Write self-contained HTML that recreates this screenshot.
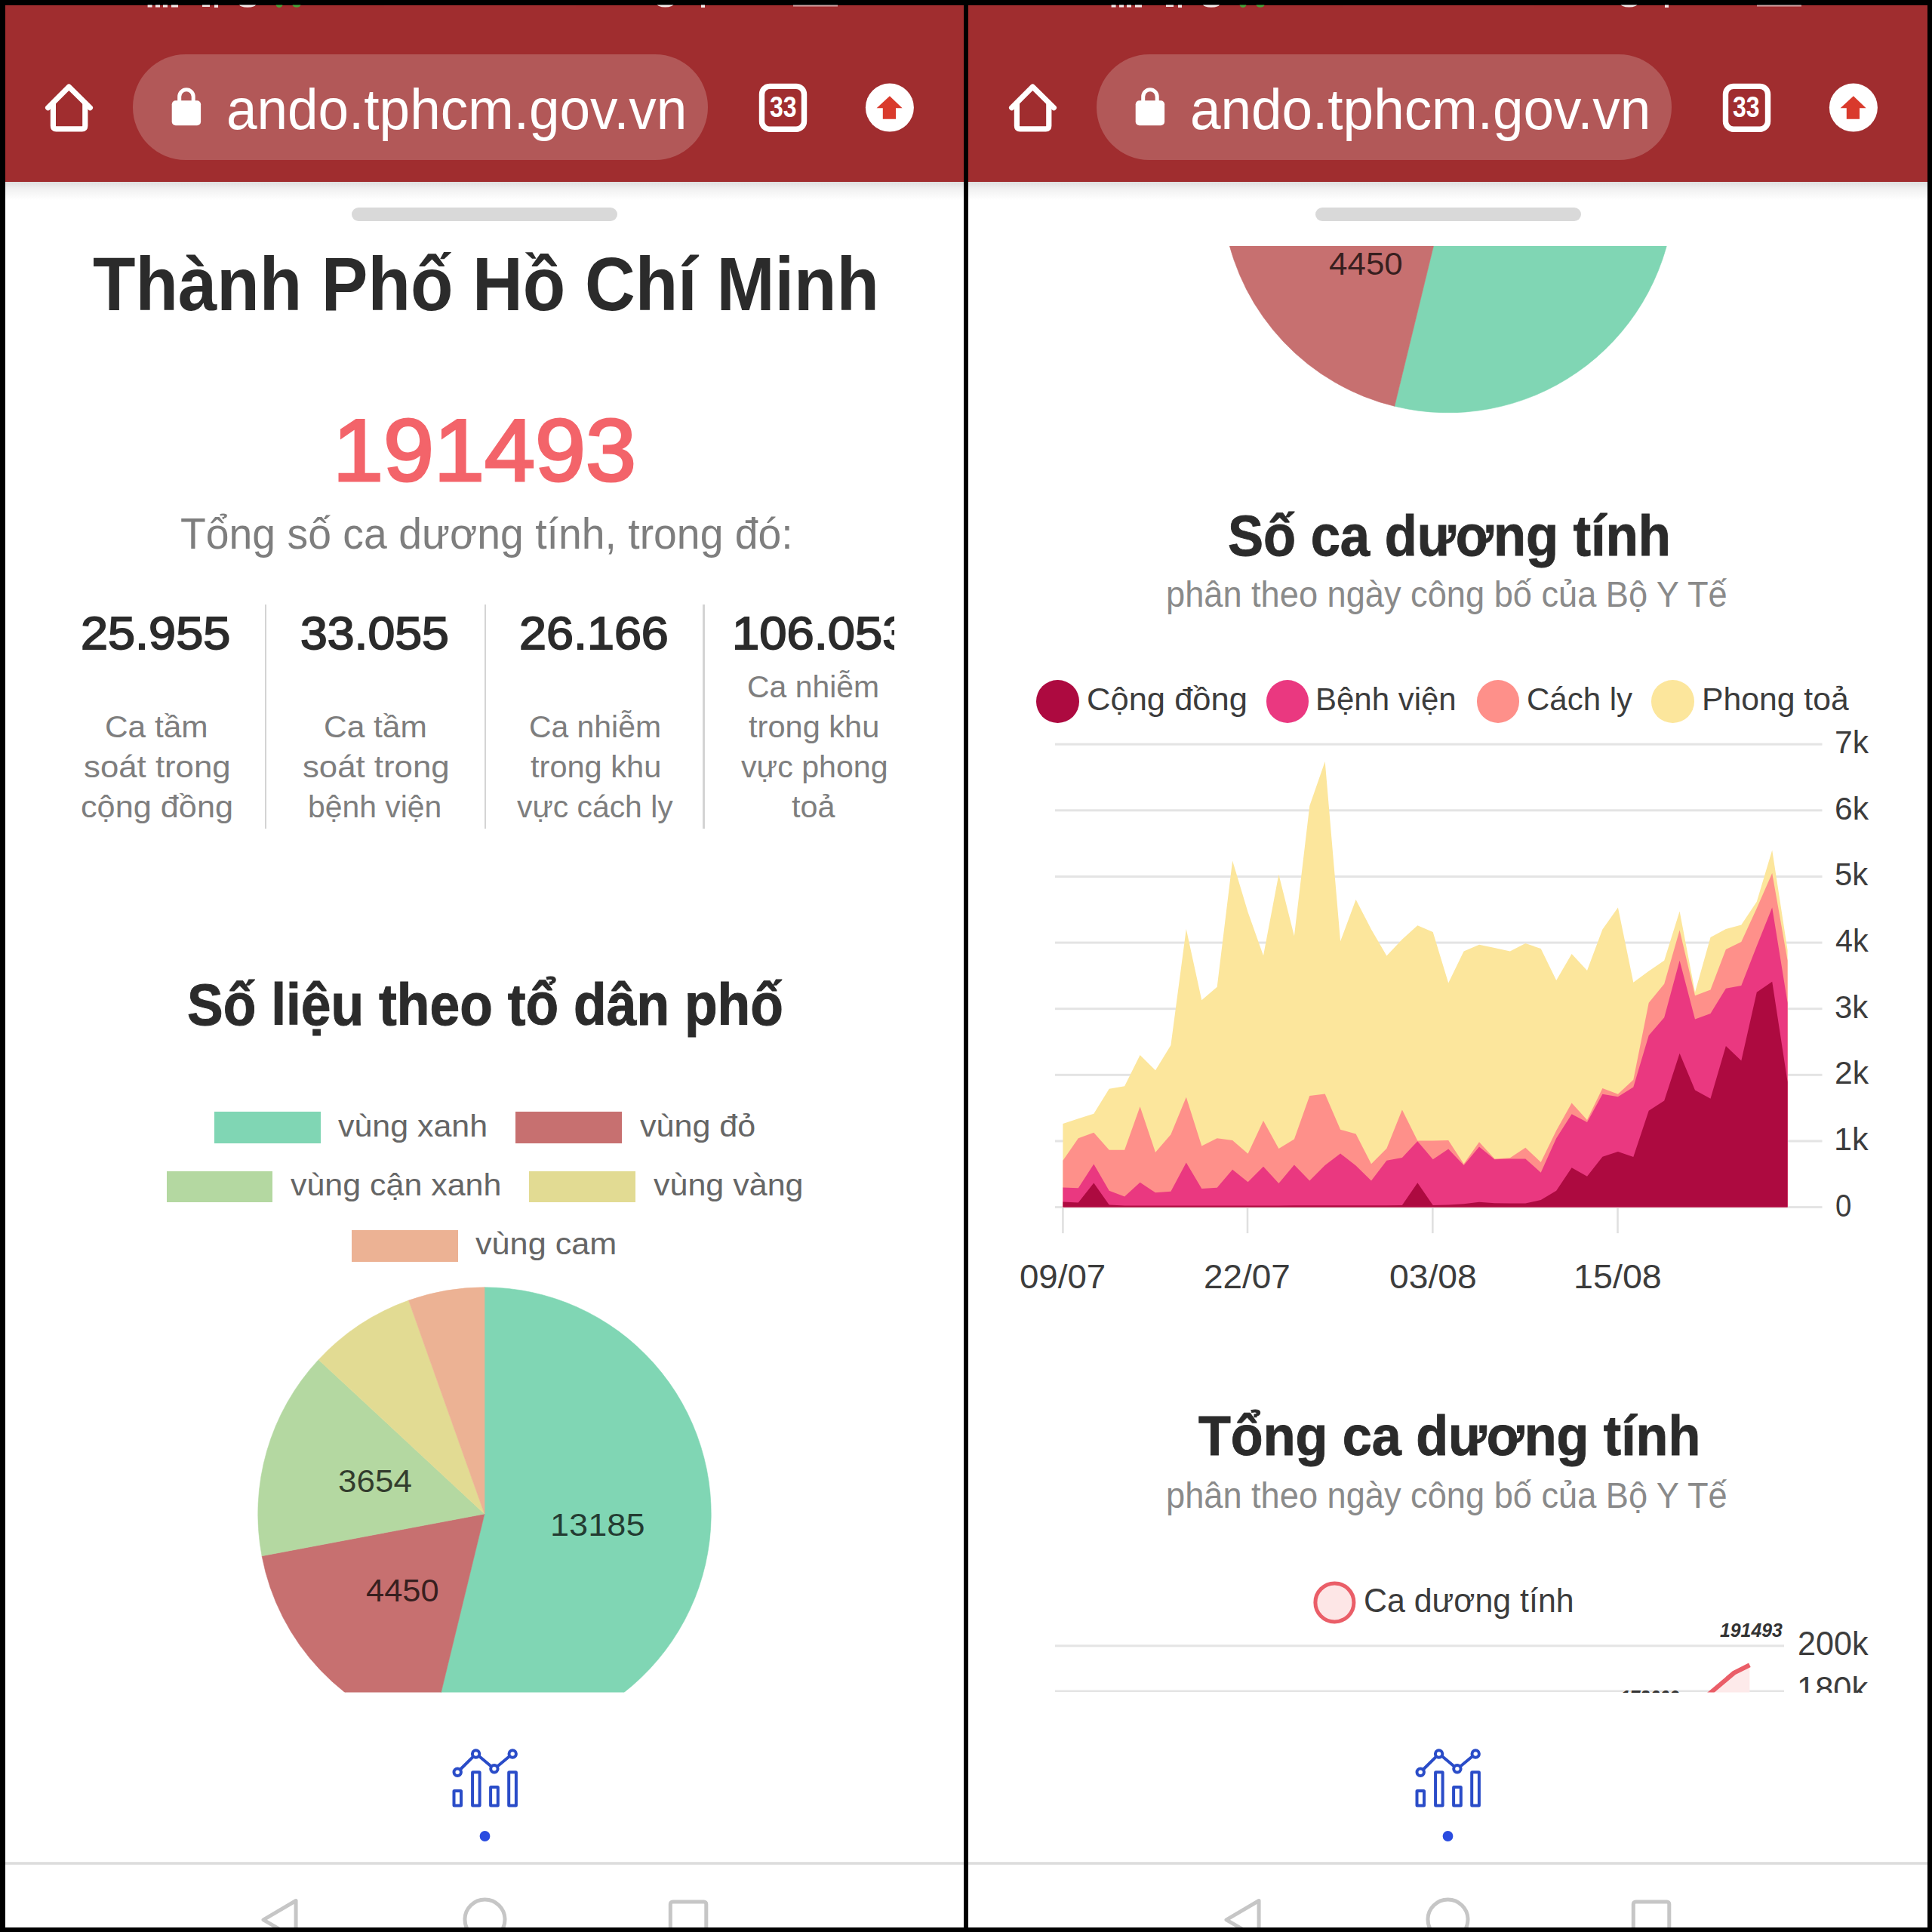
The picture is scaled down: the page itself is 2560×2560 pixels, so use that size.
<!DOCTYPE html><html><head><meta charset="utf-8"><title>Thành Phố Hồ Chí Minh</title><style>
html,body{margin:0;padding:0;background:#000;}
body{width:2560px;height:2560px;position:relative;overflow:hidden;font-family:"Liberation Sans",sans-serif;}
.abs{position:absolute;}
.panel{position:absolute;top:6.5px;height:2547px;background:#fff;}
.bar{position:absolute;top:6.5px;width:1270.500px;height:234.200px;background:#a02d2f;}
.shadow{position:absolute;top:240.700px;width:1270.500px;height:24px;background:linear-gradient(#dedede,#f0f0f0 35%,#fff);}
.pill{position:absolute;top:72px;width:762px;height:140px;border-radius:70px;background:#b25858;}
.handle{position:absolute;top:275px;width:352.400px;height:18px;border-radius:9px;background:#d9d9d9;}
.t{position:absolute;white-space:nowrap;line-height:1;transform-origin:0 0;}
.cl{position:absolute;overflow:hidden;}
.div{position:absolute;top:800.500px;height:297px;width:2.600px;background:#d4d4d4;}
.lg{position:absolute;width:140.800px;height:41.800px;}
.dot{position:absolute;width:56.600px;height:56.600px;border-radius:50%;}
</style></head><body>
<div class="panel" style="left:6.5px;width:1270.500px"></div>
<div class="panel" style="left:1283px;width:1270.500px"></div>
<svg class="abs" style="left:0;top:0" width="2560" height="2560" viewBox="0 0 2560 2560">
<defs><clipPath id="cv"><rect x="0" y="326" width="2560" height="1916.500"/></clipPath></defs>
<g clip-path="url(#cv)">
<path d="M642.00,2006.00 L642.00,1705.80 A300.20,300.20 0 1 1 571.00,2297.68 Z" fill="#80d6b4" stroke="#80d6b4" stroke-width="0.6"/>
<path d="M642.00,2006.00 L571.00,2297.68 A300.20,300.20 0 0 1 347.02,2061.74 Z" fill="#c77070" stroke="#c77070" stroke-width="0.6"/>
<path d="M642.00,2006.00 L347.02,2061.74 A300.20,300.20 0 0 1 422.09,1801.65 Z" fill="#b4d8a1" stroke="#b4d8a1" stroke-width="0.6"/>
<path d="M642.00,2006.00 L422.09,1801.65 A300.20,300.20 0 0 1 541.49,1723.12 Z" fill="#e2db93" stroke="#e2db93" stroke-width="0.6"/>
<path d="M642.00,2006.00 L541.49,1723.12 A300.20,300.20 0 0 1 642.00,1705.80 Z" fill="#ecb294" stroke="#ecb294" stroke-width="0.6"/>
<path d="M1918.80,246.60 L1918.80,-53.60 A300.20,300.20 0 1 1 1847.80,538.28 Z" fill="#80d6b4" stroke="#80d6b4" stroke-width="0.6"/>
<path d="M1918.80,246.60 L1847.80,538.28 A300.20,300.20 0 0 1 1623.82,302.34 Z" fill="#c77070" stroke="#c77070" stroke-width="0.6"/>
<path d="M1918.80,246.60 L1623.82,302.34 A300.20,300.20 0 0 1 1698.89,42.25 Z" fill="#b4d8a1" stroke="#b4d8a1" stroke-width="0.6"/>
<path d="M1918.80,246.60 L1698.89,42.25 A300.20,300.20 0 0 1 1818.29,-36.28 Z" fill="#e2db93" stroke="#e2db93" stroke-width="0.6"/>
<path d="M1918.80,246.60 L1818.29,-36.28 A300.20,300.20 0 0 1 1918.80,-53.60 Z" fill="#ecb294" stroke="#ecb294" stroke-width="0.6"/>
<rect x="1398" y="984.7" width="1016.5" height="3" fill="#e4e4e4"/>
<rect x="1398" y="1072.3" width="1016.5" height="3" fill="#e4e4e4"/>
<rect x="1398" y="1160.0" width="1016.5" height="3" fill="#e4e4e4"/>
<rect x="1398" y="1247.6" width="1016.5" height="3" fill="#e4e4e4"/>
<rect x="1398" y="1335.2" width="1016.5" height="3" fill="#e4e4e4"/>
<rect x="1398" y="1422.8" width="1016.5" height="3" fill="#e4e4e4"/>
<rect x="1398" y="1510.5" width="1016.5" height="3" fill="#e4e4e4"/>
<rect x="1398" y="1598.1" width="1016.5" height="3" fill="#e4e4e4"/>
<rect x="1407.1" y="1599.6" width="2.6" height="34.5" fill="#e0e0e0"/>
<rect x="1651.7" y="1599.6" width="2.6" height="34.5" fill="#e0e0e0"/>
<rect x="1897.0" y="1599.6" width="2.6" height="34.5" fill="#e0e0e0"/>
<rect x="2142.2" y="1599.6" width="2.6" height="34.5" fill="#e0e0e0"/>
<path d="M1408.4,1599.6 L1408.4,1488.9 L1428.8,1482.2 L1449.3,1475.8 L1469.7,1442.8 L1490.1,1439.2 L1510.6,1398.1 L1531.0,1418.2 L1551.4,1384.9 L1571.8,1231.1 L1592.3,1325.3 L1612.7,1307.8 L1633.1,1140.4 L1653.6,1208.8 L1674.0,1266.2 L1694.4,1158.8 L1714.9,1240.3 L1735.3,1067.7 L1755.7,1009.0 L1776.1,1247.3 L1796.6,1192.1 L1817.0,1231.6 L1837.4,1266.6 L1857.9,1244.7 L1878.3,1226.3 L1898.7,1235.1 L1919.2,1302.5 L1939.6,1260.5 L1960.0,1251.7 L1980.4,1256.1 L2000.9,1260.5 L2021.3,1250.0 L2041.7,1257.0 L2062.2,1299.0 L2082.6,1264.0 L2103.0,1285.9 L2123.4,1231.6 L2143.9,1202.6 L2164.3,1301.7 L2184.7,1286.8 L2205.2,1272.8 L2225.6,1207.4 L2246.0,1314.8 L2266.5,1242.1 L2286.9,1231.1 L2307.3,1225.4 L2327.8,1194.8 L2348.2,1126.4 L2368.6,1259.0 L2368.6,1599.6 Z" fill="#fce69c"/>
<path d="M1408.4,1599.6 L1408.4,1537.8 L1428.8,1508.3 L1449.3,1500.8 L1469.7,1523.7 L1490.1,1523.7 L1510.6,1466.2 L1531.0,1526.9 L1551.4,1503.2 L1571.8,1453.7 L1592.3,1518.6 L1612.7,1508.3 L1633.1,1511.0 L1653.6,1528.7 L1674.0,1485.1 L1694.4,1521.9 L1714.9,1509.4 L1735.3,1452.1 L1755.7,1449.6 L1776.1,1496.8 L1796.6,1502.5 L1817.0,1542.3 L1837.4,1521.8 L1857.9,1470.6 L1878.3,1511.6 L1898.7,1511.6 L1919.2,1511.1 L1939.6,1542.3 L1960.0,1513.2 L1980.4,1535.6 L2000.9,1534.3 L2021.3,1520.7 L2041.7,1540.0 L2062.2,1498.0 L2082.6,1461.6 L2103.0,1483.9 L2123.4,1441.9 L2143.9,1449.8 L2164.3,1430.7 L2184.7,1328.8 L2205.2,1303.7 L2225.6,1232.4 L2246.0,1319.2 L2266.5,1311.5 L2286.9,1257.9 L2307.3,1247.9 L2327.8,1203.5 L2348.2,1157.1 L2368.6,1272.8 L2368.6,1599.6 Z" fill="#fe908a"/>
<path d="M1408.4,1599.6 L1408.4,1573.6 L1428.8,1574.2 L1449.3,1542.4 L1469.7,1577.7 L1490.1,1585.6 L1510.6,1566.7 L1531.0,1580.3 L1551.4,1578.8 L1571.8,1540.5 L1592.3,1574.9 L1612.7,1573.8 L1633.1,1549.7 L1653.6,1566.3 L1674.0,1545.8 L1694.4,1567.9 L1714.9,1543.5 L1735.3,1564.6 L1755.7,1544.0 L1776.1,1528.6 L1796.6,1544.6 L1817.0,1564.6 L1837.4,1537.7 L1857.9,1533.9 L1878.3,1512.2 L1898.7,1536.2 L1919.2,1522.5 L1939.6,1543.9 L1960.0,1519.5 L1980.4,1536.2 L2000.9,1535.5 L2021.3,1535.5 L2041.7,1553.7 L2062.2,1508.2 L2082.6,1476.3 L2103.0,1487.0 L2123.4,1449.8 L2143.9,1453.3 L2164.3,1440.4 L2184.7,1372.0 L2205.2,1348.3 L2225.6,1272.8 L2246.0,1350.6 L2266.5,1342.9 L2286.9,1309.8 L2307.3,1305.9 L2327.8,1253.5 L2348.2,1202.6 L2368.6,1328.8 L2368.6,1599.6 Z" fill="#ea3880"/>
<path d="M1408.4,1599.6 L1408.4,1592.4 L1428.8,1593.5 L1449.3,1567.4 L1469.7,1596.5 L1490.1,1597.4 L1510.6,1597.4 L1531.0,1597.4 L1551.4,1597.4 L1571.8,1597.4 L1592.3,1597.4 L1612.7,1597.4 L1633.1,1597.4 L1653.6,1597.4 L1674.0,1597.4 L1694.4,1597.4 L1714.9,1597.3 L1735.3,1597.3 L1755.7,1597.3 L1776.1,1597.3 L1796.6,1597.3 L1817.0,1597.3 L1837.4,1597.3 L1857.9,1597.0 L1878.3,1567.3 L1898.7,1597.0 L1919.2,1596.5 L1939.6,1595.2 L1960.0,1592.8 L1980.4,1594.2 L2000.9,1594.6 L2021.3,1594.6 L2041.7,1590.0 L2062.2,1577.7 L2082.6,1547.3 L2103.0,1558.7 L2123.4,1532.7 L2143.9,1525.9 L2164.3,1533.0 L2184.7,1471.7 L2205.2,1458.5 L2225.6,1395.8 L2246.0,1444.6 L2266.5,1455.7 L2286.9,1386.0 L2307.3,1405.5 L2327.8,1314.8 L2348.2,1300.8 L2368.6,1433.5 L2368.6,1599.6 Z" fill="#ad0a40"/>
<rect x="1398" y="2179.300" width="966" height="3" fill="#e4e4e4"/>
<rect x="1398" y="2239.500" width="966" height="2.500" fill="#e4e4e4"/>
<path d="M2265.600,2244 L2297.700,2216.600 L2318.400,2206.300 L2318.400,2244 Z" fill="#fdeaea"/>
<path d="M2263,2246 L2297.700,2216.600 L2318.400,2206.300" fill="none" stroke="#ea5e68" stroke-width="6" stroke-linejoin="round"/>
</g>
<circle cx="1768.400" cy="2123.400" r="25.500" fill="#fde6e6" stroke="#ea5e68" stroke-width="5"/>
</svg>

<div class="bar" style="left:6.5px"></div>
<div class="shadow" style="left:6.5px"></div>
<div class="pill" style="left:176.0px"></div>
<div class="handle" style="left:466.0px"></div>
<svg class="abs" style="left:0.0px;top:0" width="1280" height="260" viewBox="0 0 1280 260">
 <g fill="none" stroke="#fff" stroke-width="7.2" stroke-linecap="round" stroke-linejoin="round">
  <path d="M63.6,142.8 L91.3,115 L119.4,142.8"/>
  <path d="M70.4,137 L70.4,166.8 Q70.4,170.8 74.4,170.8 L108.8,170.8 Q112.8,170.8 112.8,166.8 L112.8,137"/>
 </g>
 <rect x="227.7" y="133.2" width="38.4" height="33" rx="5" fill="#fff"/>
 <path d="M237.7,135 L237.7,128 A9.25,9.25 0 0 1 256.2,128 L256.2,135" fill="none" stroke="#fff" stroke-width="5"/>
 <rect x="1009.5" y="114.4" width="56" height="56.8" rx="10.5" fill="none" stroke="#fff" stroke-width="7.4"/>
 <circle cx="1178.9" cy="142.6" r="32" fill="#fff"/>
 <path d="M1178.9,127.2 L1195.6,143.2 L1187,143.2 L1187,157.8 L1169.8,157.8 L1169.8,143.2 L1161.6,143.2 Z" fill="#d93a2c"/>
 <clipPath id="sba"><rect x="0" y="6.5" width="1280" height="20"/></clipPath>
 <g clip-path="url(#sba)"><g fill="#fff" opacity="0.9">
  <rect x="195.600" y="6" width="6" height="3.6"/><rect x="206" y="6" width="6" height="3.6"/><rect x="216" y="6" width="6" height="3.6"/><rect x="227" y="6" width="9" height="3.6"/>
  <rect x="268" y="6" width="10" height="3"/><rect x="284" y="6" width="5" height="4"/>
  <ellipse cx="328" cy="5" rx="11.5" ry="4.8"/>
  <ellipse cx="881.5" cy="4" rx="12" ry="5.5"/>
  <rect x="929" y="6" width="5" height="4"/>
  <rect x="1051" y="6" width="59" height="2.6" opacity="0.6"/>
 </g>
 <g fill="#3fae3c" opacity="0.9"><ellipse cx="370" cy="6" rx="4.500" ry="4"/><ellipse cx="393" cy="6" rx="5.500" ry="3.800"/></g></g>
</svg>

<svg class="abs" style="left:6.5px;top:2300px" width="1270.5" height="253.5" viewBox="6.5 2300 1270.5 253.5">
 <rect x="0" y="2467.2" width="1280" height="3.600" fill="#dddddd"/>
 <g fill="none" stroke="#c6c6c6" stroke-width="5" stroke-linejoin="round">
  <path d="M391.600,2518.500 L391.600,2569 L348.500,2543.800 Z"/>
  <circle cx="642" cy="2543.500" r="26.500"/>
  <rect x="887.800" y="2520" width="47.500" height="48" rx="3"/>
 </g>
 <g fill="none" stroke="#2a4cc8" stroke-width="4">
  <rect x="601" y="2373.100" width="9.500" height="19.300" rx="0.500"/>
  <rect x="625.600" y="2348.300" width="9.500" height="44.100" rx="0.500"/>
  <rect x="649.600" y="2367.900" width="9.700" height="24.500" rx="0.500"/>
  <rect x="673.700" y="2348.300" width="9.700" height="44.100" rx="0.500"/>
  <path d="M609,2345 L626.800,2327.300 M634,2326.700 L650.600,2340.700 M658.300,2340.700 L674.800,2327"/>
  <circle cx="605.700" cy="2348.300" r="4.700"/><circle cx="630.100" cy="2324" r="4.700"/>
  <circle cx="654.400" cy="2343.700" r="4.700"/><circle cx="678.700" cy="2324" r="4.700"/>
 </g>
 <circle cx="642" cy="2433" r="6.900" fill="#2a4ce0"/>
</svg>

<div class="bar" style="left:1283.0px"></div>
<div class="shadow" style="left:1283.0px"></div>
<div class="pill" style="left:1452.5px"></div>
<div class="handle" style="left:1742.5px"></div>
<svg class="abs" style="left:1276.5px;top:0" width="1280" height="260" viewBox="0 0 1280 260">
 <g fill="none" stroke="#fff" stroke-width="7.2" stroke-linecap="round" stroke-linejoin="round">
  <path d="M63.6,142.8 L91.3,115 L119.4,142.8"/>
  <path d="M70.4,137 L70.4,166.8 Q70.4,170.8 74.4,170.8 L108.8,170.8 Q112.8,170.8 112.8,166.8 L112.8,137"/>
 </g>
 <rect x="227.7" y="133.2" width="38.4" height="33" rx="5" fill="#fff"/>
 <path d="M237.7,135 L237.7,128 A9.25,9.25 0 0 1 256.2,128 L256.2,135" fill="none" stroke="#fff" stroke-width="5"/>
 <rect x="1009.5" y="114.4" width="56" height="56.8" rx="10.5" fill="none" stroke="#fff" stroke-width="7.4"/>
 <circle cx="1178.9" cy="142.6" r="32" fill="#fff"/>
 <path d="M1178.9,127.2 L1195.6,143.2 L1187,143.2 L1187,157.8 L1169.8,157.8 L1169.8,143.2 L1161.6,143.2 Z" fill="#d93a2c"/>
 <clipPath id="sbb"><rect x="0" y="6.5" width="1280" height="20"/></clipPath>
 <g clip-path="url(#sbb)"><g fill="#fff" opacity="0.9">
  <rect x="195.600" y="6" width="6" height="3.6"/><rect x="206" y="6" width="6" height="3.6"/><rect x="216" y="6" width="6" height="3.6"/><rect x="227" y="6" width="9" height="3.6"/>
  <rect x="268" y="6" width="10" height="3"/><rect x="284" y="6" width="5" height="4"/>
  <ellipse cx="328" cy="5" rx="11.5" ry="4.8"/>
  <ellipse cx="881.5" cy="4" rx="12" ry="5.5"/>
  <rect x="929" y="6" width="5" height="4"/>
  <rect x="1051" y="6" width="59" height="2.6" opacity="0.6"/>
 </g>
 <g fill="#3fae3c" opacity="0.9"><ellipse cx="370" cy="6" rx="4.500" ry="4"/><ellipse cx="393" cy="6" rx="5.500" ry="3.800"/></g></g>
</svg>

<svg class="abs" style="left:1283.0px;top:2300px" width="1270.5" height="253.5" viewBox="6.5 2300 1270.5 253.5">
 <rect x="0" y="2467.2" width="1280" height="3.600" fill="#dddddd"/>
 <g fill="none" stroke="#c6c6c6" stroke-width="5" stroke-linejoin="round">
  <path d="M391.600,2518.500 L391.600,2569 L348.500,2543.800 Z"/>
  <circle cx="642" cy="2543.500" r="26.500"/>
  <rect x="887.800" y="2520" width="47.500" height="48" rx="3"/>
 </g>
 <g fill="none" stroke="#2a4cc8" stroke-width="4">
  <rect x="601" y="2373.100" width="9.500" height="19.300" rx="0.500"/>
  <rect x="625.600" y="2348.300" width="9.500" height="44.100" rx="0.500"/>
  <rect x="649.600" y="2367.900" width="9.700" height="24.500" rx="0.500"/>
  <rect x="673.700" y="2348.300" width="9.700" height="44.100" rx="0.500"/>
  <path d="M609,2345 L626.800,2327.300 M634,2326.700 L650.600,2340.700 M658.300,2340.700 L674.800,2327"/>
  <circle cx="605.700" cy="2348.300" r="4.700"/><circle cx="630.100" cy="2324" r="4.700"/>
  <circle cx="654.400" cy="2343.700" r="4.700"/><circle cx="678.700" cy="2324" r="4.700"/>
 </g>
 <circle cx="642" cy="2433" r="6.900" fill="#2a4ce0"/>
</svg>
<div class="div" style="left:350.7px"></div>
<div class="div" style="left:641.7px"></div>
<div class="div" style="left:931.1px"></div>
<div class="lg" style="left:284.0px;top:1473.3px;background:#80d6b4"></div>
<div class="lg" style="left:683.0px;top:1473.3px;background:#c77070"></div>
<div class="lg" style="left:220.5px;top:1551.5px;background:#b4d8a1"></div>
<div class="lg" style="left:701.0px;top:1551.5px;background:#e2db93"></div>
<div class="lg" style="left:466.0px;top:1629.8px;background:#ecb294"></div>
<div class="dot" style="left:1373.3px;top:901.2px;background:#ad0a40"></div>
<div class="dot" style="left:1677.5px;top:901.2px;background:#ea3880"></div>
<div class="dot" style="left:1956.5px;top:901.2px;background:#fe908a"></div>
<div class="dot" style="left:2188.4px;top:901.2px;background:#fce69c"></div>
<span class="t" style="left:300.12px;top:106.75px;font-size:76.26px;color:#ffffff;transform:scaleX(0.9557);">ando.tphcm.gov.vn</span>
<span class="t" style="left:1019.60px;top:123.01px;font-size:38.26px;color:#ffffff;transform:scaleX(0.8365);font-weight:700;">33</span>
<span class="t" style="left:1576.62px;top:106.75px;font-size:76.26px;color:#ffffff;transform:scaleX(0.9557);">ando.tphcm.gov.vn</span>
<span class="t" style="left:2296.10px;top:123.01px;font-size:38.26px;color:#ffffff;transform:scaleX(0.8365);font-weight:700;">33</span>
<span class="t" style="left:123.30px;top:326.37px;font-size:99.98px;color:#2b2b2b;transform:scaleX(0.9244);font-weight:700;">Thành Phố Hồ Chí Minh</span>
<span class="t" style="left:440.77px;top:537.82px;font-size:117.05px;color:#f3646a;transform:scaleX(1.0293);-webkit-text-stroke:3.20px #f3646a;">191493</span>
<span class="t" style="left:238.84px;top:679.88px;font-size:56.60px;color:#7e7e7e;transform:scaleX(0.9779);">Tổng số ca dương tính, trong đó:</span>
<span class="t" style="left:106.86px;top:808.17px;font-size:61.58px;color:#2b2b2b;transform:scaleX(1.0526);-webkit-text-stroke:1.80px #2b2b2b;">25.955</span>
<span class="t" style="left:398.39px;top:808.17px;font-size:61.58px;color:#2b2b2b;transform:scaleX(1.0455);-webkit-text-stroke:1.80px #2b2b2b;">33.055</span>
<span class="t" style="left:687.77px;top:808.17px;font-size:61.58px;color:#2b2b2b;transform:scaleX(1.0504);-webkit-text-stroke:1.80px #2b2b2b;">26.166</span>
<div class="cl" style="left:960.00px;top:790.00px;width:225.00px;height:90.00px"><span class="t" style="left:10.33px;top:18.17px;font-size:61.58px;color:#2b2b2b;transform:scaleX(1.0575);-webkit-text-stroke:1.80px #2b2b2b;">106.053</span></div>
<span class="t" style="left:138.51px;top:943.09px;font-size:41.00px;color:#7e7e7e;transform:scaleX(1.0343);">Ca tầm</span>
<span class="t" style="left:110.62px;top:996.19px;font-size:41.00px;color:#7e7e7e;transform:scaleX(1.0675);">soát trong</span>
<span class="t" style="left:106.65px;top:1049.29px;font-size:41.00px;color:#7e7e7e;transform:scaleX(1.0547);">cộng đồng</span>
<span class="t" style="left:428.71px;top:943.09px;font-size:41.00px;color:#7e7e7e;transform:scaleX(1.0351);">Ca tầm</span>
<span class="t" style="left:400.92px;top:996.19px;font-size:41.00px;color:#7e7e7e;transform:scaleX(1.0669);">soát trong</span>
<span class="t" style="left:408.35px;top:1049.29px;font-size:41.00px;color:#7e7e7e;transform:scaleX(0.9962);">bệnh viện</span>
<span class="t" style="left:700.58px;top:943.09px;font-size:41.00px;color:#7e7e7e;transform:scaleX(0.9969);">Ca nhiễm</span>
<span class="t" style="left:702.50px;top:996.19px;font-size:41.00px;color:#7e7e7e;transform:scaleX(1.0134);">trong khu</span>
<span class="t" style="left:684.60px;top:1049.29px;font-size:41.00px;color:#7e7e7e;transform:scaleX(0.9964);">vực cách ly</span>
<span class="t" style="left:990.08px;top:889.99px;font-size:41.00px;color:#7e7e7e;transform:scaleX(0.9975);">Ca nhiễm</span>
<span class="t" style="left:992.00px;top:943.09px;font-size:41.00px;color:#7e7e7e;transform:scaleX(1.0140);">trong khu</span>
<span class="t" style="left:982.00px;top:996.19px;font-size:41.00px;color:#7e7e7e;transform:scaleX(1.0039);">vực phong</span>
<span class="t" style="left:1049.00px;top:1049.29px;font-size:41.00px;color:#7e7e7e;transform:scaleX(1.0078);">toả</span>
<span class="t" style="left:247.88px;top:1292.28px;font-size:78.22px;color:#2b2b2b;transform:scaleX(0.9134);font-weight:700;-webkit-text-stroke:1.00px #2b2b2b;">Số liệu theo tổ dân phố</span>
<span class="t" style="left:448.00px;top:1471.88px;font-size:40.66px;color:#666666;transform:scaleX(1.0559);">vùng xanh</span>
<span class="t" style="left:847.50px;top:1471.88px;font-size:40.66px;color:#666666;transform:scaleX(1.0591);">vùng đỏ</span>
<span class="t" style="left:384.90px;top:1550.18px;font-size:40.66px;color:#666666;transform:scaleX(1.0561);">vùng cận xanh</span>
<span class="t" style="left:865.50px;top:1550.18px;font-size:40.66px;color:#666666;transform:scaleX(1.0580);">vùng vàng</span>
<span class="t" style="left:630.00px;top:1628.48px;font-size:40.66px;color:#666666;transform:scaleX(1.0622);">vùng cam</span>
<span class="t" style="left:729.18px;top:1999.90px;font-size:42.52px;color:rgba(0,0,0,0.72);transform:scaleX(1.0617);">13185</span>
<span class="t" style="left:447.63px;top:1941.84px;font-size:42.24px;color:rgba(0,0,0,0.72);transform:scaleX(1.0415);">3654</span>
<span class="t" style="left:484.72px;top:2086.72px;font-size:42.38px;color:rgba(0,0,0,0.72);transform:scaleX(1.0263);">4450</span>
<span class="t" style="left:1761.21px;top:328.62px;font-size:42.38px;color:rgba(0,0,0,0.72);transform:scaleX(1.0371);">4450</span>
<span class="t" style="left:1626.55px;top:672.26px;font-size:75.95px;color:#2b2b2b;transform:scaleX(0.9283);font-weight:700;-webkit-text-stroke:0.90px #2b2b2b;">Số ca dương tính</span>
<span class="t" style="left:1544.88px;top:762.61px;font-size:48.07px;color:#8a8a8a;transform:scaleX(0.9401);">phân theo ngày công bố của Bộ Y Tế</span>
<span class="t" style="left:1439.96px;top:906.30px;font-size:42.52px;color:#3c3c3c;transform:scaleX(1.0236);">Cộng đồng</span>
<span class="t" style="left:1743.32px;top:906.30px;font-size:42.52px;color:#3c3c3c;transform:scaleX(0.9873);">Bệnh viện</span>
<span class="t" style="left:2022.63px;top:906.30px;font-size:42.52px;color:#3c3c3c;transform:scaleX(0.9878);">Cách ly</span>
<span class="t" style="left:2254.66px;top:906.30px;font-size:42.52px;color:#3c3c3c;transform:scaleX(1.0040);">Phong toả</span>
<span class="t" style="left:2432.30px;top:1575.51px;font-size:43.24px;color:#3c3c3c;transform:scaleX(0.8882);">0</span>
<span class="t" style="left:2429.79px;top:1487.88px;font-size:43.24px;color:#3c3c3c;transform:scaleX(1.0015);">1k</span>
<span class="t" style="left:2430.50px;top:1400.25px;font-size:43.24px;color:#3c3c3c;transform:scaleX(0.9862);">2k</span>
<span class="t" style="left:2431.19px;top:1312.62px;font-size:43.24px;color:#3c3c3c;transform:scaleX(0.9714);">3k</span>
<span class="t" style="left:2431.85px;top:1224.99px;font-size:43.24px;color:#3c3c3c;transform:scaleX(0.9570);">4k</span>
<span class="t" style="left:2431.19px;top:1137.36px;font-size:43.24px;color:#3c3c3c;transform:scaleX(0.9714);">5k</span>
<span class="t" style="left:2430.50px;top:1049.73px;font-size:43.24px;color:#3c3c3c;transform:scaleX(0.9862);">6k</span>
<span class="t" style="left:2430.50px;top:962.10px;font-size:43.24px;color:#3c3c3c;transform:scaleX(0.9862);">7k</span>
<span class="t" style="left:1350.87px;top:1671.36px;font-size:43.52px;color:#3c3c3c;transform:scaleX(1.0484);">09/07</span>
<span class="t" style="left:1595.15px;top:1671.36px;font-size:43.52px;color:#3c3c3c;transform:scaleX(1.0552);">22/07</span>
<span class="t" style="left:1841.15px;top:1671.36px;font-size:43.52px;color:#3c3c3c;transform:scaleX(1.0626);">03/08</span>
<span class="t" style="left:2085.38px;top:1671.36px;font-size:43.52px;color:#3c3c3c;transform:scaleX(1.0726);">15/08</span>
<span class="t" style="left:1588.45px;top:1865.83px;font-size:74.10px;color:#2b2b2b;transform:scaleX(0.9462);font-weight:700;-webkit-text-stroke:0.90px #2b2b2b;">Tổng ca dương tính</span>
<span class="t" style="left:1544.88px;top:1956.81px;font-size:48.07px;color:#8a8a8a;transform:scaleX(0.9401);">phân theo ngày công bố của Bộ Y Tế</span>
<span class="t" style="left:1806.79px;top:2099.76px;font-size:43.52px;color:#3c3c3c;transform:scaleX(0.9856);">Ca dương tính</span>
<span class="t" style="left:2278.61px;top:2147.81px;font-size:25.03px;color:#333333;transform:scaleX(0.9927);font-weight:700;font-style:italic;">191493</span>
<span class="t" style="left:2381.58px;top:2155.98px;font-size:44.09px;color:#3c3c3c;transform:scaleX(0.9785);">200k</span>
<div class="cl" style="left:2370.00px;top:2200.00px;width:130.00px;height:42.50px"><span class="t" style="left:10.88px;top:16.18px;font-size:44.09px;color:#3c3c3c;transform:scaleX(0.9857);">180k</span></div>
<div class="cl" style="left:2140.00px;top:2200.00px;width:100.00px;height:42.50px"><span class="t" style="left:7.24px;top:37.13px;font-size:24.89px;color:#333333;transform:scaleX(0.9382);font-weight:700;font-style:italic;">173609</span></div>
</body></html>
